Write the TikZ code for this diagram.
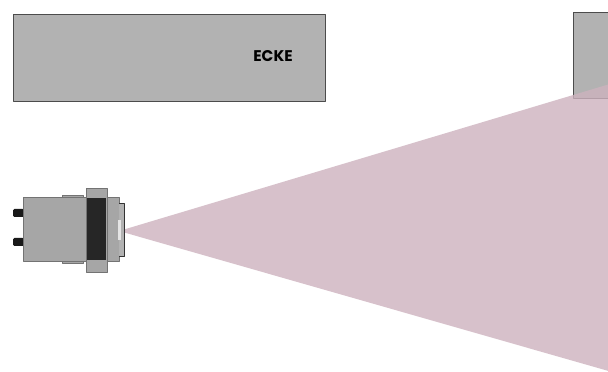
\documentclass[tikz,border=0pt]{standalone}
\usepackage{fontspec}
\newfontfamily\eckefont{Poppins}

\begin{document}
\begin{tikzpicture}[x=0.025cm, y=-0.025cm, line join=round,
  wall/.style={fill=black!30, draw=black!70, line width=0.6pt},
  part/.style={fill=black!35, draw=black!55, line width=0.4pt}]

% Frame
\clip (0,0) rectangle (608,372);

% Walls
\draw[wall] (13,14) rectangle (325,101);
\draw[wall] (573,12) rectangle (640,98);
\node[font=\eckefont\bfseries\fontsize{11}{13}\selectfont] (ecke) at (273,56) {ECKE};

% Sensor cone
\coordinate (S) at (119,231);
\coordinate (T) at (640,75);
\coordinate (B) at (640,380);
\fill[fill={rgb,255:red,205;green,178;blue,190}, opacity=0.8] (S) -- (T) -- (B) -- cycle;

% Robot: rear bumpers
\fill[black!90, rounded corners=1pt] (13,209) rectangle (24,217);
\fill[black!90, rounded corners=1pt] (13,238) rectangle (24,246);

% Robot: side strips
\draw[part] (62,195) rectangle (83,199);
\draw[part] (62,259) rectangle (83,263);

% Robot: body
\draw[part] (23,197) rectangle (119,261);

% Robot: wheel
\draw[part] (86,188) rectangle (107,272);
\fill[black!85] (87,198) rectangle (106,260);

% Robot: front plate and sensor
\draw[black!80, line width=0.6pt, fill=black!30] (119,203) -- (124,203) -- (124,256) -- (119,256);
\fill[white!90!black] (118,220) rectangle (121,240);

\end{tikzpicture}
\end{document}
